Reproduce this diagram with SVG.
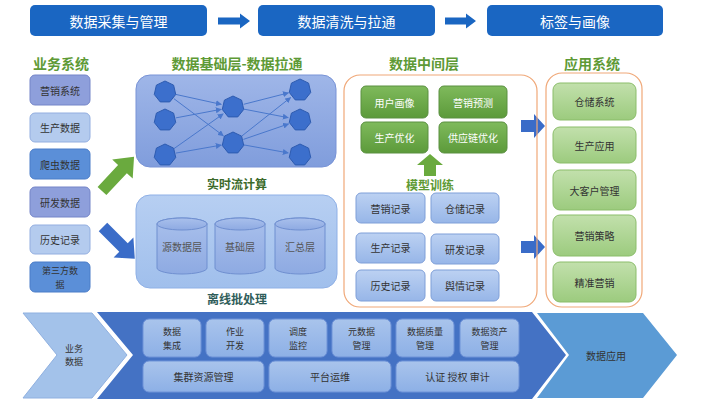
<svg xmlns="http://www.w3.org/2000/svg" width="720" height="408" viewBox="0 0 720 408">
<defs>
<linearGradient id="gNet" x1="0" y1="0" x2="0" y2="1"><stop offset="0" stop-color="#9fb6e8"/><stop offset="1" stop-color="#809ddc"/></linearGradient>
<linearGradient id="gBatch" x1="0" y1="0" x2="0" y2="1"><stop offset="0" stop-color="#b7cff2"/><stop offset="1" stop-color="#a0bfec"/></linearGradient>
<linearGradient id="gCyl" x1="0" y1="0" x2="0" y2="1"><stop offset="0" stop-color="#a9c0ec"/><stop offset="1" stop-color="#8eaae2"/></linearGradient>
<linearGradient id="gGreen" x1="0" y1="0" x2="0" y2="1"><stop offset="0" stop-color="#7fba5c"/><stop offset="1" stop-color="#5c9a3a"/></linearGradient>
<linearGradient id="gLGreen" x1="0" y1="0" x2="0" y2="1"><stop offset="0" stop-color="#c2e0ac"/><stop offset="1" stop-color="#9ccb7e"/></linearGradient>
<linearGradient id="gRec" x1="0" y1="0" x2="0" y2="1"><stop offset="0" stop-color="#bcd1f2"/><stop offset="1" stop-color="#97b6e8"/></linearGradient>
<linearGradient id="gInner" x1="0" y1="0" x2="0" y2="1"><stop offset="0" stop-color="#a9c4ec"/><stop offset="1" stop-color="#8db0e6"/></linearGradient>
<polygon id="hep" points="0,-11 8.6,-6.86 10.72,2.45 4.77,9.91 -4.77,9.91 -10.72,2.45 -8.6,-6.86"/>
<marker id="ah" viewBox="0 0 10 10" refX="9" refY="5" markerWidth="6" markerHeight="6" orient="auto" markerUnits="userSpaceOnUse"><path d="M0,0 L10,5 L0,10 z" fill="#4a78cc"/></marker>
</defs>
<style>
text{font-family:"Noto Sans CJK SC","Noto Sans",sans-serif;text-anchor:middle;dominant-baseline:central}
.ban{fill:#1a66c2}
.banT{fill:#fff;font-size:14px}
.ttl{fill:#5e9a36;font-size:14px;font-weight:bold}
.sub{fill:#3b6a2a;font-size:12px;font-weight:bold}
.t{fill:#333;font-size:10px}
.t2{fill:#333;font-size:9px}
.tw{fill:#fff;font-size:10px}
.edge{stroke:#4a78cc;stroke-width:1;fill:none;marker-end:url(#ah)}
.node{fill:#3c6fcc;stroke:#2d5bb0;stroke-width:1}
.rec{fill:url(#gRec);stroke:#7f9fd8;stroke-width:1}
.grn{fill:url(#gGreen);stroke:#5a9040;stroke-width:1}
.lgrn{fill:url(#gLGreen);stroke:#8bbd6a;stroke-width:1}
.inner{fill:url(#gInner);stroke:#6f93d8;stroke-width:1}
.cyl{fill:url(#gCyl);stroke:#6f8fd0;stroke-width:1}
</style>
<rect width="720" height="408" fill="#fff"/>

<!-- Top banners -->
<g id="banner1"><rect class="ban" x="30" y="5" width="177" height="31" rx="5"/><text class="banT" x="118.5" y="20.5">数据采集与管理</text></g>
<g id="banner2"><rect class="ban" x="258" y="5" width="177" height="31" rx="5"/><text class="banT" x="346.5" y="20.5">数据清洗与拉通</text></g>
<g id="banner3"><rect class="ban" x="487" y="5" width="176" height="31" rx="5"/><text class="banT" x="575" y="20.5">标签与画像</text></g>

<!-- Section titles -->
<g id="titles">
<text class="ttl" x="61" y="63">业务系统</text>
<text class="ttl" x="237" y="63">数据基础层-数据拉通</text>
<text class="ttl" x="424" y="63">数据中间层</text>
<text class="ttl" x="592" y="63">应用系统</text>
</g>

<!-- Left business system boxes -->
<g id="src1"><rect x="30" y="75" width="60" height="30" rx="5" fill="#8e9fdb" stroke="#7485c8"/><text class="t" x="60" y="90">营销系统</text></g>
<g id="src2"><rect x="30" y="113" width="60" height="29" rx="5" fill="#b4cbee" stroke="#93aee0"/><text class="t" x="60" y="127.5">生产数据</text></g>
<g id="src3"><rect x="30" y="149" width="60" height="30" rx="5" fill="#5b8fd8" stroke="#4a7cc8"/><text class="t" x="60" y="164">爬虫数据</text></g>
<g id="src4"><rect x="30" y="187" width="60" height="30" rx="5" fill="#8e9fdb" stroke="#7485c8"/><text class="t" x="60" y="202">研发数据</text></g>
<g id="src5"><rect x="30" y="225" width="60" height="29" rx="5" fill="#b4cbee" stroke="#93aee0"/><text class="t" x="60" y="239.5">历史记录</text></g>
<g id="src6"><rect x="30" y="262" width="60" height="30" rx="5" fill="#5b8fd8" stroke="#4a7cc8"/><text class="t2" x="60" y="270.5">第三方数</text><text class="t2" x="60" y="284">据</text></g>

<!-- Real-time network box -->
<g id="realtime">
<rect x="136" y="75" width="200" height="92" rx="14" fill="url(#gNet)" stroke="#7893d6"/>
<text class="sub" x="237" y="183">实时流计算</text>
</g>

<!-- Batch box -->
<g id="batch">
<rect x="136" y="195" width="201" height="93" rx="14" fill="url(#gBatch)" stroke="#8fb0e6"/>
<text class="sub" x="237" y="298" style="fill:#2f5d5a">离线批处理</text>
</g>
<g id="cyl1"><path class="cyl" d="M157,224 v44 a25,6 0 0 0 50,0 v-44 a25,6 0 0 0 -50,0 z"/><ellipse class="cyl" cx="182" cy="224" rx="25" ry="6"/><text class="t" x="182" y="246" style="fill:#555">源数据层</text></g>
<g id="cyl2"><path class="cyl" d="M215,224 v44 a25,6 0 0 0 50,0 v-44 a25,6 0 0 0 -50,0 z"/><ellipse class="cyl" cx="240" cy="224" rx="25" ry="6"/><text class="t" x="240" y="246" style="fill:#555">基础层</text></g>
<g id="cyl3"><path class="cyl" d="M275,224 v44 a25,6 0 0 0 50,0 v-44 a25,6 0 0 0 -50,0 z"/><ellipse class="cyl" cx="300" cy="224" rx="25" ry="6"/><text class="t" x="300" y="246" style="fill:#555">汇总层</text></g>

<!-- Connectors -->
<g id="connectors">
<line class="edge" x1="175.7" y1="94.4" x2="221.3" y2="104.4"/>
<line class="edge" x1="173.8" y1="98.6" x2="223.4" y2="135.8"/>
<line class="edge" x1="175.8" y1="117.9" x2="221.2" y2="109.3"/>
<line class="edge" x1="174" y1="148.6" x2="223.2" y2="113.9"/>
<line class="edge" x1="175.8" y1="153.1" x2="221.2" y2="145.1"/>
<line class="edge" x1="243.7" y1="104.3" x2="288.4" y2="92.9"/>
<line class="edge" x1="243.8" y1="109.1" x2="288.2" y2="117.7"/>
<line class="edge" x1="241.6" y1="136.2" x2="290.6" y2="97.5"/>
<line class="edge" x1="243.4" y1="139.4" x2="288.6" y2="123.9"/>
<line class="edge" x1="243.8" y1="144.9" x2="288.2" y2="152.9"/>
<!-- banner arrows -->
<polygon points="218,17.5 240,17.5 240,13.5 250,21 240,28.5 240,24.5 218,24.5" fill="#1a66c2"/>
<polygon points="445,17.5 466,17.5 466,13.5 476,21 466,28.5 466,24.5 445,24.5" fill="#1a66c2"/>
<!-- green arrow up-right -->
<polygon transform="translate(102,191) rotate(-47)" points="0,-6 30,-6 30,-14 47,0 30,14 30,6 0,6" fill="#6aaa3e"/>
<!-- blue arrow down-right -->
<polygon transform="translate(103,227) rotate(45)" points="0,-6 29,-6 29,-14 45,0 29,14 29,6 0,6" fill="#3a6cc8"/>
<!-- middle to app arrows -->
<polygon points="521,120 534,120 534,114 545,126 534,138 534,132 521,132" fill="#3a6cc8"/>
<polygon points="521,241 534,241 534,235 545,247 534,259 534,253 521,253" fill="#3a6cc8"/>
<!-- up arrow -->
<polygon points="424,176 424,165 417,165 430,154 443,165 436,165 436,176" fill="#6aaa3e"/>
</g>

<!-- network nodes -->
<g id="netnodes">
<use href="#hep" class="node" x="165" y="92"/>
<use href="#hep" class="node" x="165" y="120"/>
<use href="#hep" class="node" x="165" y="155"/>
<use href="#hep" class="node" x="233" y="107"/>
<use href="#hep" class="node" x="233" y="143"/>
<use href="#hep" class="node" x="300" y="90"/>
<use href="#hep" class="node" x="300" y="120"/>
<use href="#hep" class="node" x="300" y="155"/>
</g>

<!-- Data middle layer -->
<g id="midlayer"><rect x="344" y="75" width="193" height="232" rx="16" fill="none" stroke="#f0a878" stroke-width="1.2"/></g>
<g id="m1"><rect class="grn" x="361" y="86" width="67" height="32" rx="5"/><text class="tw" x="394.5" y="102">用户画像</text></g>
<g id="m2"><rect class="grn" x="439" y="86" width="68" height="32" rx="5"/><text class="tw" x="473" y="102">营销预测</text></g>
<g id="m3"><rect class="grn" x="361" y="122" width="67" height="31" rx="5"/><text class="tw" x="394.5" y="137.5">生产优化</text></g>
<g id="m4"><rect class="grn" x="439" y="122" width="68" height="31" rx="5"/><text class="tw" x="473" y="137.5">供应链优化</text></g>
<g id="train"><text class="sub" x="430" y="184" style="fill:#5e9a36">模型训练</text></g>
<g id="r1"><rect class="rec" x="356" y="193" width="69" height="30" rx="5"/><text class="t" x="390.5" y="208">营销记录</text></g>
<g id="r2"><rect class="rec" x="431" y="193" width="68" height="30" rx="5"/><text class="t" x="465" y="208">仓储记录</text></g>
<g id="r3"><rect class="rec" x="356" y="233" width="69" height="30" rx="5"/><text class="t" x="390.5" y="247">生产记录</text></g>
<g id="r4"><rect class="rec" x="431" y="234" width="68" height="30" rx="5"/><text class="t" x="465" y="249">研发记录</text></g>
<g id="r5"><rect class="rec" x="356" y="270" width="69" height="31" rx="5"/><text class="t" x="390.5" y="285.5">历史记录</text></g>
<g id="r6"><rect class="rec" x="431" y="270" width="68" height="31" rx="5"/><text class="t" x="465" y="285.5">舆情记录</text></g>

<!-- Application system -->
<g id="appsys"><rect x="546" y="73" width="96" height="234" rx="16" fill="none" stroke="#f0a878" stroke-width="1.2"/></g>
<g id="a1"><rect class="lgrn" x="553" y="83" width="83" height="37" rx="7"/><text class="t" x="594.5" y="101.5">仓储系统</text></g>
<g id="a2"><rect class="lgrn" x="553" y="127" width="83" height="36" rx="7"/><text class="t" x="594.5" y="145">生产应用</text></g>
<g id="a3"><rect class="lgrn" x="553" y="170" width="83" height="40" rx="7"/><text class="t" x="594.5" y="190">大客户管理</text></g>
<g id="a4"><rect class="lgrn" x="553" y="215" width="83" height="41" rx="7"/><text class="t" x="594.5" y="235.5">营销策略</text></g>
<g id="a5"><rect class="lgrn" x="553" y="262" width="83" height="40" rx="7"/><text class="t" x="594.5" y="282">精准营销</text></g>

<!-- Bottom platform band -->
<g id="bizdata"><polygon points="23,313 92,313 127,355 92,398 23,398 57,355" fill="#a3c2ea" stroke="#8fb0e0"/><text class="t2" x="74" y="348">业务</text><text class="t2" x="74" y="361.5">数据</text></g>
<g id="platform"><polygon points="97,312 532,312 566,355 532,399 97,399 133,355" fill="#4472c4"/></g>
<g id="dataapp"><polygon points="537,313 643,313 677,355 643,398 537,398 569,355" fill="#5b9bd5"/><text class="t" x="606" y="355">数据应用</text></g>
<g id="p1"><rect class="inner" x="143" y="319" width="58" height="38" rx="6"/><text class="t2" x="172" y="331.5">数据</text><text class="t2" x="172" y="345">集成</text></g>
<g id="p2"><rect class="inner" x="206" y="319" width="58" height="38" rx="6"/><text class="t2" x="235" y="331.5">作业</text><text class="t2" x="235" y="345">开发</text></g>
<g id="p3"><rect class="inner" x="269" y="319" width="58" height="38" rx="6"/><text class="t2" x="298" y="331.5">调度</text><text class="t2" x="298" y="345">监控</text></g>
<g id="p4"><rect class="inner" x="332" y="319" width="59" height="38" rx="6"/><text class="t2" x="361.5" y="331.5">元数据</text><text class="t2" x="361.5" y="345">管理</text></g>
<g id="p5"><rect class="inner" x="396" y="319" width="58" height="38" rx="6"/><text class="t2" x="425" y="331.5">数据质量</text><text class="t2" x="425" y="345">管理</text></g>
<g id="p6"><rect class="inner" x="460" y="319" width="59" height="38" rx="6"/><text class="t2" x="489.5" y="331.5">数据资产</text><text class="t2" x="489.5" y="345">管理</text></g>
<g id="p7"><rect class="inner" x="143" y="361" width="121" height="31" rx="6"/><text class="t" x="203.5" y="376.5">集群资源管理</text></g>
<g id="p8"><rect class="inner" x="269" y="361" width="122" height="31" rx="6"/><text class="t" x="330" y="376.5">平台运维</text></g>
<g id="p9"><rect class="inner" x="396" y="361" width="123" height="31" rx="6"/><text class="t" x="457.5" y="376.5">认证 授权 审计</text></g>
</svg>
